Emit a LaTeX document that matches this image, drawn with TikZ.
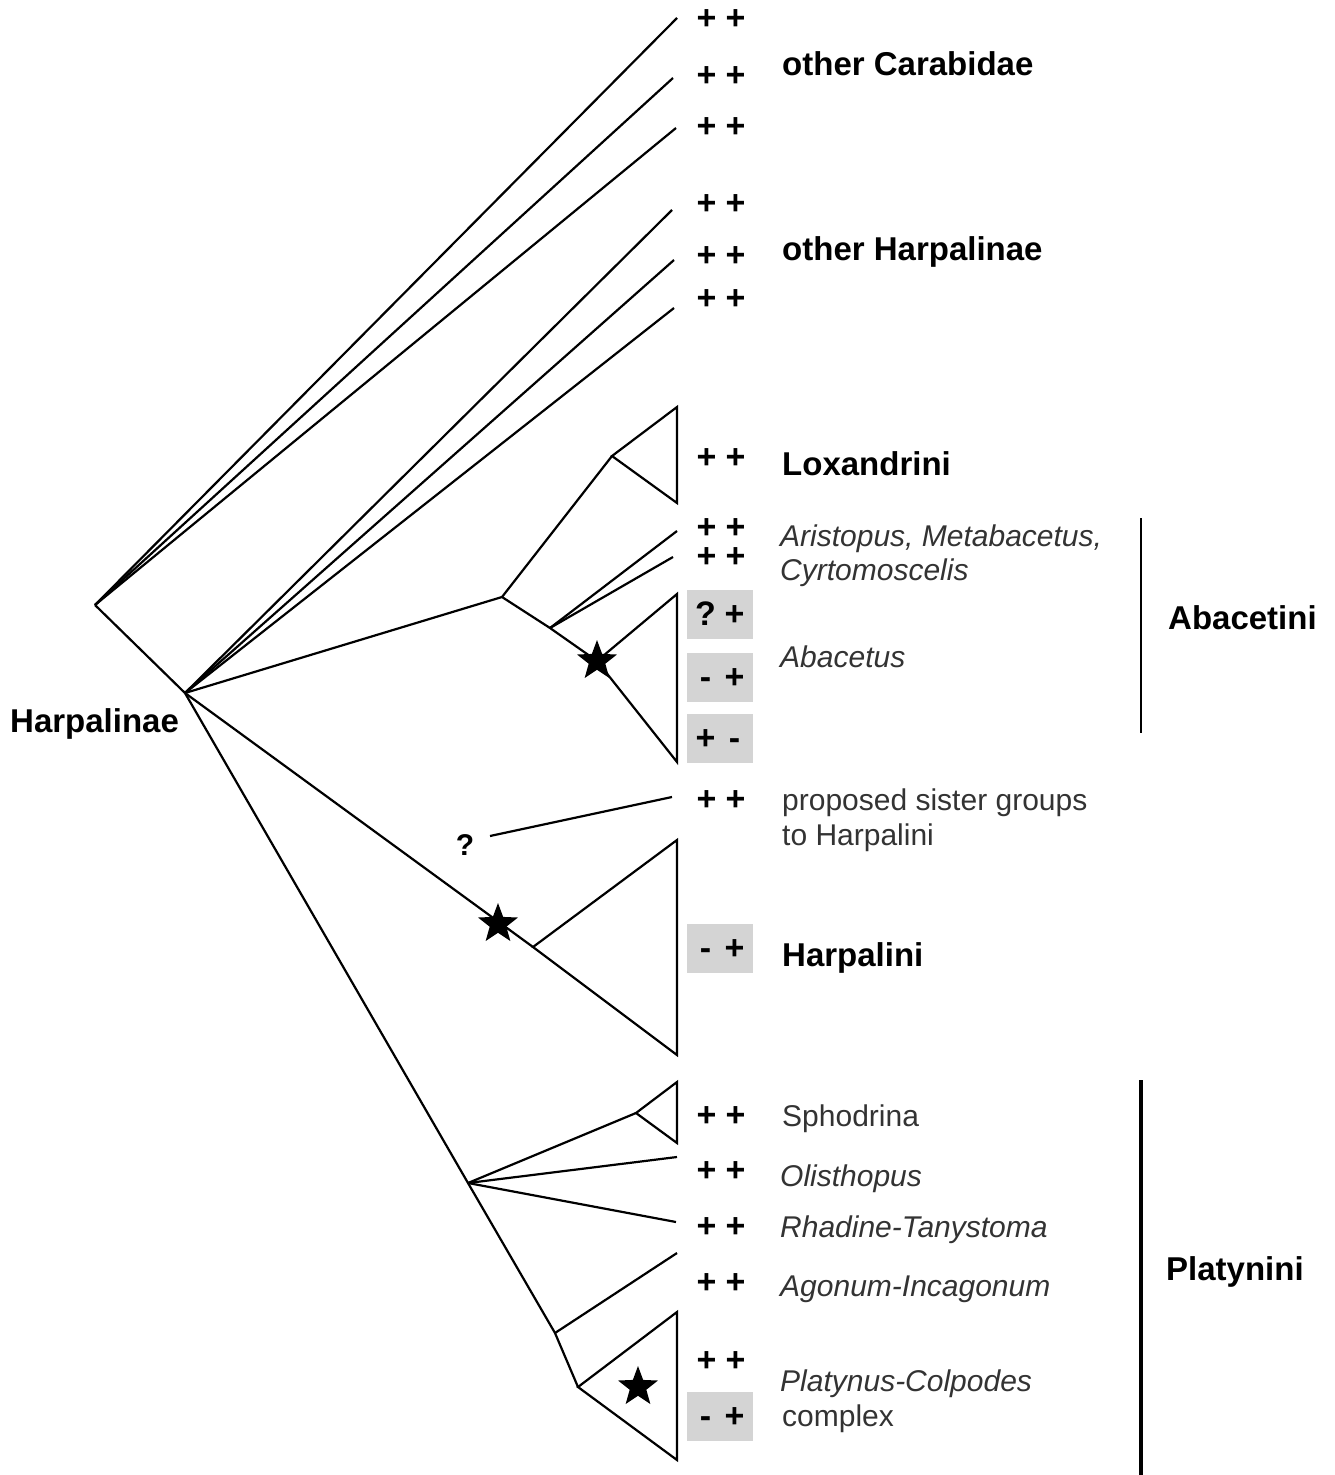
\documentclass[tikz,border=0pt]{standalone}
\usepackage{fontspec}
\setmainfont{Liberation Sans}
\usetikzlibrary{shapes.geometric}
\newcommand\pmpair[2]{\makebox[0.6em]{#1}\hspace{0.25em}\makebox[0.6em]{#2}}
\begin{document}
\begin{tikzpicture}[x=1pt,y=-1pt,
  branch/.style={line width=2.2pt, line join=miter},
  pp/.style={font=\fontsize{34}{40}\selectfont\bfseries, inner sep=0pt, text height=23pt, text depth=0pt},
  ppbox/.style={pp, fill=black!17, minimum width=66pt, minimum height=49pt},
  blab/.style={font=\fontsize{33}{40}\selectfont\bfseries, anchor=base west, inner sep=0pt},
  ilab/.style={font=\fontsize{30}{36}\selectfont\itshape, text=black!80, anchor=base west, inner sep=0pt},
  rlab/.style={font=\fontsize{30}{36}\selectfont, text=black!80, anchor=base west, inner sep=0pt},
  starmark/.style={star, star points=5, star point ratio=2.4, fill=black, inner sep=0pt, minimum size=42pt},
  bar/.style={line width=#1},
]
\useasboundingbox (0,0) rectangle (1334,1475);

% tree coordinates
\coordinate (root) at (95,605);
\coordinate (harp) at (185,693);
\coordinate (t1) at (677,18);
\coordinate (t2) at (673,78);
\coordinate (t3) at (676,128);
\coordinate (h1) at (672,210);
\coordinate (h2) at (674,260);
\coordinate (h3) at (674,308);
\coordinate (lox) at (612,456);
\coordinate (loxT) at (677,407);
\coordinate (loxB) at (677,503);
\coordinate (lc) at (502,597);
\coordinate (ab) at (550,628);
\coordinate (ar1) at (677,531);
\coordinate (ar2) at (673,557);
\coordinate (abac) at (597,661);
\coordinate (abT) at (677,594);
\coordinate (abB) at (677,762);
\coordinate (q) at (490,836);
\coordinate (qT) at (672,797);
\coordinate (hpA) at (533,947);
\coordinate (hpT) at (677,840);
\coordinate (hpB) at (677,1055);
\coordinate (pl) at (468,1183);
\coordinate (sph) at (636,1113);
\coordinate (sphT) at (677,1082);
\coordinate (sphB) at (677,1143);
\coordinate (oli) at (677,1157);
\coordinate (rha) at (676,1222);
\coordinate (ag) at (555,1333);
\coordinate (agT) at (677,1253);
\coordinate (pc) at (578,1387);
\coordinate (pcT) at (677,1312);
\coordinate (pcB) at (677,1460);

% branches
\draw[branch] (root) -- (t1);
\draw[branch] (root) -- (t2);
\draw[branch] (root) -- (t3);
\draw[branch] (root) -- (harp);
\draw[branch] (harp) -- (h1);
\draw[branch] (harp) -- (h2);
\draw[branch] (harp) -- (h3);
\draw[branch] (harp) -- (lc);
\draw[branch] (lc) -- (lox);
\draw[branch] (lox) -- (loxT) -- (loxB) -- cycle;
\draw[branch] (lc) -- (ab) -- (abac);
\draw[branch] (ab) -- (ar1);
\draw[branch] (ab) -- (ar2);
\draw[branch] (abac) -- (abT) -- (abB) -- cycle;
\draw[branch] (q) -- (qT);
\draw[branch] (harp) -- (hpA);
\draw[branch] (hpA) -- (hpT) -- (hpB) -- cycle;
\draw[branch] (harp) -- (pl) -- (ag) -- (pc);
\draw[branch] (pl) -- (sph);
\draw[branch] (sph) -- (sphT) -- (sphB) -- cycle;
\draw[branch] (pl) -- (oli);
\draw[branch] (pl) -- (rha);
\draw[branch] (ag) -- (agT);
\draw[branch] (pc) -- (pcT) -- (pcB) -- cycle;

% stars
\node[starmark] (s1) at (597,661) {};
\node[starmark] (s2) at (498,924) {};
\node[starmark] (s3) at (638,1387) {};

% question mark
\node[font=\fontsize{30}{36}\selectfont\bfseries, inner sep=0pt] (qm) at (465,845) {?};

% character states
\node[pp] (p1) at (721,18) {\pmpair{+}{+}};
\node[pp] (p2) at (721,75) {\pmpair{+}{+}};
\node[pp] (p3) at (721,126) {\pmpair{+}{+}};
\node[pp] (p4) at (721,203) {\pmpair{+}{+}};
\node[pp] (p5) at (721,255) {\pmpair{+}{+}};
\node[pp] (p6) at (721,298) {\pmpair{+}{+}};
\node[pp] (p7) at (721,457) {\pmpair{+}{+}};
\node[pp] (p8) at (721,527) {\pmpair{+}{+}};
\node[pp] (p9) at (721,556) {\pmpair{+}{+}};
\node[ppbox] (b1) at (720,614) {\pmpair{?}{+}};
\node[ppbox] (b2) at (720,677) {\pmpair{-}{+}};
\node[ppbox] (b3) at (720,738) {\pmpair{+}{-}};
\node[pp] (p10) at (721,799) {\pmpair{+}{+}};
\node[ppbox] (b4) at (720,948) {\pmpair{-}{+}};
\node[pp] (p11) at (721,1115) {\pmpair{+}{+}};
\node[pp] (p12) at (721,1170) {\pmpair{+}{+}};
\node[pp] (p13) at (721,1226) {\pmpair{+}{+}};
\node[pp] (p14) at (721,1282) {\pmpair{+}{+}};
\node[pp] (p15) at (721,1360) {\pmpair{+}{+}};
\node[ppbox] (b5) at (720,1416) {\pmpair{-}{+}};

% labels
\node[blab] (lHarpalinae) at (10,732) {Harpalinae};
\node[blab] (lCarab) at (782,75) {other Carabidae};
\node[blab] (lOthHarp) at (782,260) {other Harpalinae};
\node[blab] (lLox) at (782,475) {Loxandrini};
\node[ilab] (lAris) at (780,546) {Aristopus, Metabacetus,};
\node[ilab] (lCyrt) at (780,580) {Cyrtomoscelis};
\node[ilab] (lAbac) at (780,667) {Abacetus};
\node[blab] (lAbacetini) at (1168,629) {Abacetini};
\node[rlab] (lProp) at (782,810) {proposed sister groups};
\node[rlab] (lTo) at (782,845) {to Harpalini};
\node[blab] (lHarpalini) at (782,966) {Harpalini};
\node[rlab] (lSph) at (782,1126) {Sphodrina};
\node[ilab] (lOli) at (780,1186) {Olisthopus};
\node[ilab] (lRha) at (780,1237) {Rhadine-Tanystoma};
\node[ilab] (lAgo) at (780,1296) {Agonum-Incagonum};
\node[ilab] (lPla) at (780,1391) {Platynus-Colpodes};
\node[rlab] (lCom) at (782,1426) {complex};
\node[blab] (lPlatynini) at (1166,1280) {Platynini};

% group bars
\coordinate (abBarT) at (1141,518);
\coordinate (abBarB) at (1141,733);
\draw[bar=1.8pt] (abBarT) -- (abBarB);
\coordinate (plBarT) at (1141,1080);
\coordinate (plBarB) at (1141,1475);
\draw[bar=3.2pt] (plBarT) -- (plBarB);
\end{tikzpicture}
\end{document}
